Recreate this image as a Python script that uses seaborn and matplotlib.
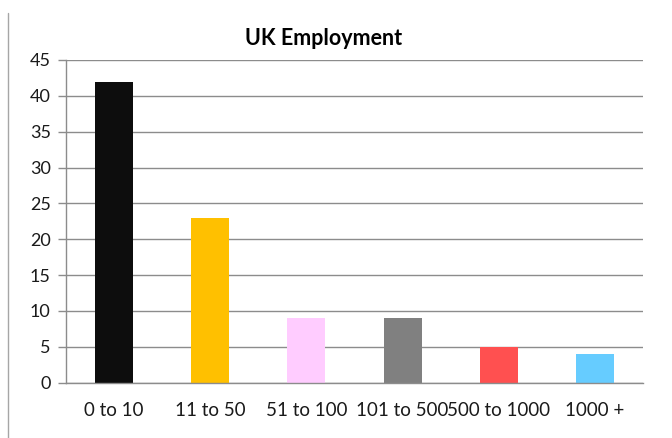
import matplotlib
matplotlib.use("Agg")
import matplotlib.pyplot as plt
from matplotlib.lines import Line2D
import seaborn as sns
import pandas as pd

# Employment share by company size band
size_bands = ["0 to 10", "11 to 50", "51 to 100", "101 to 500", "500 to 1000", "1000 +"]
employment = [42, 23, 9, 9, 5, 4]
bar_colors = ["#0d0d0d", "#ffc000", "#ffccff", "#808080", "#ff5050", "#66ccff"]
y_ticks = list(range(0, 46, 5))

df = pd.DataFrame({"band": size_bands, "value": employment})

sns.set_style("white")
plt.rcParams["font.family"] = ["Lato", "DejaVu Sans"]

fig = plt.figure(figsize=(6.72, 4.38), dpi=100)
ax = fig.add_axes([66 / 672, 1 - 382.5 / 438, (643 - 66) / 672, (382.5 - 60) / 438])

sns.barplot(data=df, x="band", y="value", hue="band", palette=bar_colors,
            width=0.395, dodge=False, legend=False, saturation=1, ax=ax,
            edgecolor="none", linewidth=0)

grid_color = "#8c8c8c"
ax.set_ylim(0, 45)
ax.set_xlim(-0.5, len(size_bands) - 0.5)
ax.set_yticks(y_ticks)
ax.set_yticklabels([str(t) for t in y_ticks], fontsize=13, color="#1a1a1a")
ax.yaxis.grid(True, color=grid_color, linewidth=1)
ax.set_axisbelow(True)

# Category labels sit between boundary tick marks
ax.set_xticks([i - 0.5 for i in range(len(size_bands) + 1)])
ax.set_xticklabels([])
ax.set_xticks(range(len(size_bands)), minor=True)
ax.set_xticklabels(size_bands, minor=True, fontsize=13.5, color="#1a1a1a")
ax.tick_params(axis="x", which="major", length=8, width=1, color=grid_color, direction="out")
ax.tick_params(axis="x", which="minor", length=0, pad=14)
ax.tick_params(axis="y", length=6, width=1, color=grid_color, direction="out", pad=5, left=True)

for side in ["top", "right"]:
    ax.spines[side].set_visible(False)
for side in ["left", "bottom"]:
    ax.spines[side].set_color(grid_color)
    ax.spines[side].set_linewidth(1)

ax.set_xlabel("")
ax.set_ylabel("")

fig.text(324 / 672, 1 - 38.5 / 438, "UK Employment", ha="center", va="center",
         fontsize=15.5, fontweight="bold", color="#000000")

# Frame edge on the left of the chart
fig.add_artist(Line2D([8 / 672, 8 / 672], [0, 1 - 13 / 438], color="#a6a6a6",
                      linewidth=1, transform=fig.transFigure))

fig.savefig("out.png", dpi=100, facecolor="white")
